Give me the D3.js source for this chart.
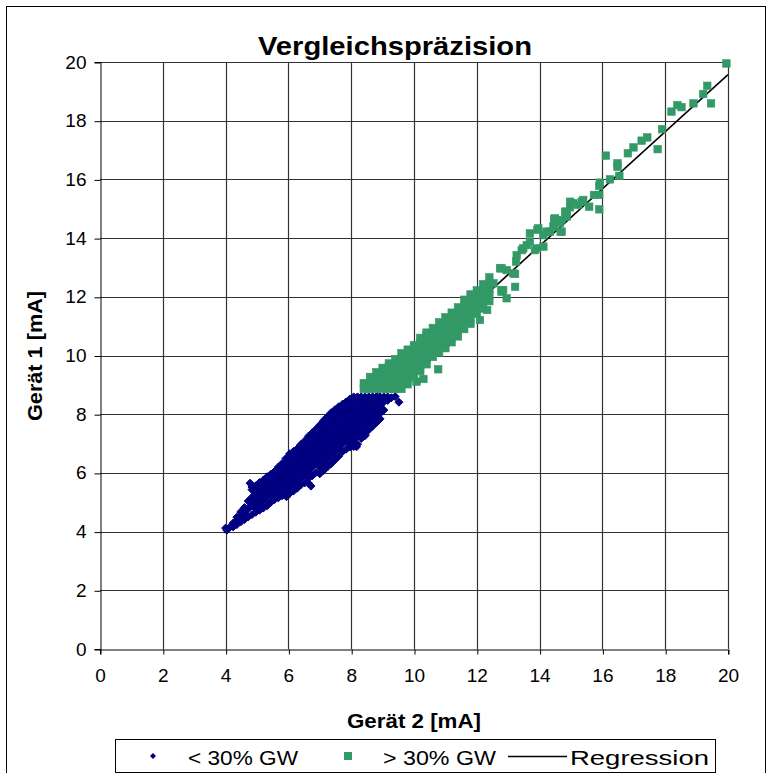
<!DOCTYPE html>
<html><head><meta charset="utf-8">
<script src="https://cdn.jsdelivr.net/npm/d3@7"></script>
<style>html,body{margin:0;padding:0;background:#fff}svg{display:block}</style>
</head><body>
<script>
// ---------- data ----------
const chartTitle = "Vergleichspräzision";
const xAxisTitle = "Gerät 2 [mA]";
const yAxisTitle = "Gerät 1 [mA]";
const xTicks = [0,2,4,6,8,10,12,14,16,18,20];
const yTicks = [0,2,4,6,8,10,12,14,16,18,20];
const seriesNames = ["< 30% GW", "> 30% GW", "Regression"];

// "< 30% GW": dense cloud read column by column (x, list of y)
const blueColumns = [
 [4.00,[4.12]],
 [4.12,[4.13]],
 [4.24,[4.16,4.29]],
 [4.36,[4.24,4.39,4.49]],
 [4.48,[4.33,4.52,4.67]],
 [4.60,[4.41,4.65,4.82]],
 [4.72,[4.50,4.78,5.04]],
 [4.84,[4.58,4.91,5.17,5.43,5.52]],
 [4.96,[4.66,4.78,5.04,5.30,5.56]],
 [5.08,[4.73,4.91,5.17,5.43,5.67]],
 [5.20,[4.80,5.04,5.30,5.56,5.75]],
 [5.32,[4.88,5.17,5.43,5.69,5.87]],
 [5.44,[5.00,5.30,5.56,5.82,5.95]],
 [5.56,[5.09,5.17,5.43,5.69,5.95,6.05]],
 [5.68,[5.15,5.30,5.56,5.82,6.08,6.20]],
 [5.80,[5.22,5.43,5.69,5.95,6.21,6.32]],
 [5.92,[5.27,5.56,5.82,6.08,6.34,6.49]],
 [6.04,[5.30,5.43,5.69,5.95,6.21,6.47,6.65]],
 [6.16,[5.38,5.56,5.82,6.08,6.34,6.60,6.73]],
 [6.28,[5.48,5.69,5.95,6.21,6.47,6.73,6.82]],
 [6.40,[5.60,5.82,6.08,6.34,6.60,6.86,6.97]],
 [6.52,[5.66,5.95,6.21,6.47,6.73,6.99,7.09]],
 [6.64,[5.65,5.82,6.08,6.34,6.60,6.86,7.12,7.25]],
 [6.76,[5.90,6.21,6.47,6.73,6.99,7.25,7.37]],
 [6.88,[6.02,6.34,6.60,6.86,7.12,7.38,7.49]],
 [7.00,[5.97,6.21,6.47,6.73,6.99,7.25,7.51,7.63]],
 [7.12,[6.08,6.34,6.60,6.86,7.12,7.38,7.64,7.78]],
 [7.24,[6.20,6.47,6.73,6.99,7.25,7.51,7.77,7.91]],
 [7.36,[6.31,6.60,6.86,7.12,7.38,7.64,7.90,8.05]],
 [7.48,[6.44,6.73,6.99,7.25,7.51,7.77,8.03,8.15]],
 [7.60,[6.57,6.86,7.12,7.38,7.64,7.90,8.16,8.25]],
 [7.72,[6.72,6.99,7.25,7.51,7.77,8.03,8.29,8.34]],
 [7.84,[6.81,7.12,7.38,7.64,7.90,8.16,8.42]],
 [7.96,[6.88,6.99,7.25,7.51,7.77,8.03,8.29,8.52]],
 [8.08,[6.90,7.12,7.38,7.64,7.90,8.16,8.42,8.59]],
 [8.20,[6.98,7.25,7.51,7.77,8.03,8.29,8.55,8.59]],
 [8.32,[7.17,7.38,7.64,7.90,8.16,8.42,8.59]],
 [8.44,[7.31,7.51,7.77,8.03,8.29,8.55,8.59]],
 [8.56,[7.47,7.64,7.90,8.16,8.42,8.59]],
 [8.68,[7.59,7.77,8.03,8.29,8.55,8.59]],
 [8.80,[7.71,7.90,8.16,8.42,8.59]],
 [8.92,[7.84,8.03,8.29,8.55,8.59]],
 [9.04,[8.14,8.42,8.59]],
 [9.16,[8.47,8.59]],
 [9.28,[8.56]],
 [9.40,[8.60]]
];
const blueOutliers = [[9.52,8.41],[6.72,5.55],[5.94,5.19],[8.44,7.27],[8.17,6.89],[4.78,5.65],[4.04,4.05]];

// "> 30% GW": dense band read column by column, then single points
const greenColumns = [
 [8.40,[8.86,9.06]],
 [8.60,[8.86,9.05,9.27]],
 [8.80,[8.86,9.05,9.25,9.43]],
 [9.00,[8.86,9.05,9.25,9.45,9.58]],
 [9.20,[8.86,9.05,9.25,9.45,9.65,9.73]],
 [9.40,[8.86,9.05,9.25,9.45,9.65,9.88]],
 [9.60,[8.86,9.05,9.25,9.45,9.65,9.87,10.08]],
 [9.80,[9.02,9.22,9.42,9.62,9.82,10.02,10.20]],
 [10.00,[9.27,9.47,9.67,9.87,10.07,10.27,10.35]],
 [10.20,[9.47,9.67,9.87,10.07,10.27,10.45,10.60]],
 [10.40,[9.70,9.90,10.10,10.30,10.50,10.70,10.78]],
 [10.60,[9.95,10.15,10.35,10.55,10.75,10.94]],
 [10.80,[10.10,10.30,10.50,10.70,10.90,11.13]],
 [11.00,[10.25,10.45,10.65,10.85,11.05,11.30]],
 [11.20,[10.45,10.65,10.85,11.05,11.25,11.46]],
 [11.40,[10.65,10.85,11.05,11.25,11.45,11.64]],
 [11.60,[10.90,11.10,11.30,11.50,11.70,11.90]],
 [11.80,[11.08,11.28,11.48,11.68,11.88,12.08]],
 [12.00,[11.42,11.62,11.82,12.02,12.22]],
 [12.20,[11.60,11.80,12.00,12.20,12.43]],
 [12.40,[11.85,12.05,12.25,12.45,12.66]]
];
const greenPoints = [
 [10.77,9.53],[10.30,9.20],[10.08,9.11],[12.33,11.55],[12.10,11.21],[12.79,12.17],
 [12.74,12.97],[12.95,12.91],[12.79,12.97],[13.16,12.80],[13.22,12.78],[12.53,12.46],
 [12.79,12.23],[13.22,12.34],[12.95,11.95],[12.84,12.23],[13.27,13.42],[13.25,13.20],
 [13.43,13.59],[13.48,13.65],[13.59,13.76],[13.69,13.88],[13.69,14.16],[13.91,13.65],
 [13.85,13.59],[13.96,14.33],[13.93,14.28],[14.12,13.71],[14.12,14.10],[14.22,14.22],
 [14.33,14.22],[14.44,14.39],[14.49,14.67],[14.46,14.64],[14.65,14.52],[14.70,14.62],
 [14.70,14.22],[14.67,14.22],[14.86,14.90],[14.81,14.90],[14.86,14.73],[14.97,15.24],
 [14.97,15.05],[15.07,15.19],[15.23,15.13],[15.34,15.24],[15.39,15.30],[15.58,15.07],
 [15.73,15.47],[15.90,15.47],[15.90,15.78],[15.92,15.89],[15.90,14.98],[16.11,16.81],
 [16.24,16.00],[16.48,16.55],[16.48,16.43],[16.54,16.12],[16.81,16.89],[16.99,17.09],
 [17.25,17.32],[17.43,17.43],[17.76,17.03],[17.90,17.71],[18.20,18.31],[18.39,18.53],
 [18.52,18.46],[18.90,18.59],[19.21,18.91],[19.34,19.19],[19.46,18.59],[19.95,19.95]
];

// Regression line end points
const regressionX = [3.95, 20];
const regressionY = [3.96, 19.57];

// ---------- drawing ----------
const W = 771, H = 773;
const svg = d3.select("body").append("svg").attr("width", W).attr("height", H);
const FONT = "'Liberation Sans', Arial, sans-serif";
const BLUE = "#000080", GREEN = "#339966";

svg.append("rect").attr("x",0).attr("y",0).attr("width",W).attr("height",H).attr("fill","#fff");
// chart border
svg.append("rect").attr("x",6.5).attr("y",6.5).attr("width",759).attr("height",780)
  .attr("fill","none").attr("stroke","#000").attr("stroke-width",1);

const x = d3.scaleLinear().domain([0,20]).range([100,728]);
const y = d3.scaleLinear().domain([0,20]).range([649,62]);
const crisp = v => Math.round(v) + 0.5;

// gridlines
const grid = svg.append("g").attr("stroke","#333").attr("stroke-width",1.2);
grid.selectAll("line.v").data(xTicks.filter(t=>t>0)).join("line")
  .attr("x1",d=>crisp(x(d))).attr("x2",d=>crisp(x(d))).attr("y1",y(20)).attr("y2",y(0));
grid.selectAll("line.h").data(yTicks.filter(t=>t>0)).join("line")
  .attr("y1",d=>crisp(y(d))).attr("y2",d=>crisp(y(d))).attr("x1",x(0)).attr("x2",x(20));

// axes
const xAxis = d3.axisBottom(x).tickValues(xTicks).tickSize(5).tickPadding(14).tickFormat(d3.format("d"));
const yAxis = d3.axisLeft(y).tickValues(yTicks).tickSize(6).tickPadding(8).tickFormat(d3.format("d"));
const gx = svg.append("g").attr("transform",`translate(0,${crisp(y(0))})`).call(xAxis);
const gy = svg.append("g").attr("transform",`translate(${crisp(x(0))},0)`).call(yAxis);
[gx,gy].forEach(g=>{
  g.select(".domain").attr("stroke","#000");
  g.selectAll(".tick line").attr("stroke","#000");
  g.selectAll(".tick text").attr("fill","#000").style("font-family",FONT).style("font-size","19px");
});
gx.selectAll(".tick line").attr("transform","translate(0.5,0)");
gy.selectAll(".tick line").attr("transform","translate(0,0.5)");

// regression line (below markers)
const plot = svg.append("g");
plot.append("path")
  .datum(regressionX.map((v,i)=>[v, regressionY[i]]))
  .attr("d", d3.line().x(d=>x(d[0])).y(d=>y(d[1])))
  .attr("fill","none").attr("stroke","#000").attr("stroke-width",1.6);

// blue diamonds
const bluePts = blueColumns.flatMap(([cx,ys]) => ys.map(v=>[cx,v])).concat(blueOutliers);
const dR = 4.0;
const diamond = r => `M0,${-r}L${r},0L0,${r}L${-r},0Z`;
plot.append("g").selectAll("path").data(bluePts).join("path")
  .attr("transform",d=>`translate(${x(d[0])},${y(d[1])})`)
  .attr("d", diamond(dR)).attr("fill",BLUE).attr("stroke",BLUE).attr("stroke-width",1);

// green squares
const greenPts = greenColumns.flatMap(([cx,ys]) => ys.map(v=>[cx,v])).concat(greenPoints);
const sq = 7.5;
plot.append("g").selectAll("rect").data(greenPts).join("rect")
  .attr("x",d=>x(d[0])-sq/2).attr("y",d=>y(d[1])-sq/2)
  .attr("width",sq).attr("height",sq).attr("fill",GREEN).attr("stroke",GREEN).attr("stroke-width",0.6);

// titles
svg.append("text").attr("x",395).attr("y",55).attr("text-anchor","middle")
  .style("font-family",FONT).style("font-weight","bold").style("font-size","26px")
  .attr("textLength",274).attr("lengthAdjust","spacingAndGlyphs").text(chartTitle);
svg.append("text").attr("x",414).attr("y",728).attr("text-anchor","middle")
  .style("font-family",FONT).style("font-weight","bold").style("font-size","20px")
  .attr("textLength",134).attr("lengthAdjust","spacingAndGlyphs").text(xAxisTitle);
svg.append("text").attr("transform","translate(42,356) rotate(-90)").attr("text-anchor","middle")
  .style("font-family",FONT).style("font-weight","bold").style("font-size","20px")
  .attr("textLength",130).attr("lengthAdjust","spacingAndGlyphs").text(yAxisTitle);

// legend
const lg = svg.append("g");
lg.append("rect").attr("x",115.5).attr("y",739.5).attr("width",600).attr("height",33)
  .attr("fill","#fff").attr("stroke","#000");
const ly = 756;
lg.append("path").attr("transform",`translate(153,${ly})`).attr("d",diamond(3)).attr("fill",BLUE);
lg.append("rect").attr("x",344).attr("y",ly-4).attr("width",8).attr("height",8).attr("fill",GREEN);
lg.append("line").attr("x1",508).attr("x2",567).attr("y1",ly+0.5).attr("y2",ly+0.5).attr("stroke","#000").attr("stroke-width",1.5);
const legendText = [[188,seriesNames[0],110],[383,seriesNames[1],113],[570,seriesNames[2],139]];
lg.selectAll("text").data(legendText).join("text")
  .attr("x",d=>d[0]).attr("y",765).text(d=>d[1])
  .attr("textLength",d=>d[2]).attr("lengthAdjust","spacingAndGlyphs")
  .style("font-family",FONT).style("font-size","21px").attr("fill","#000");
</script>
</body></html>
